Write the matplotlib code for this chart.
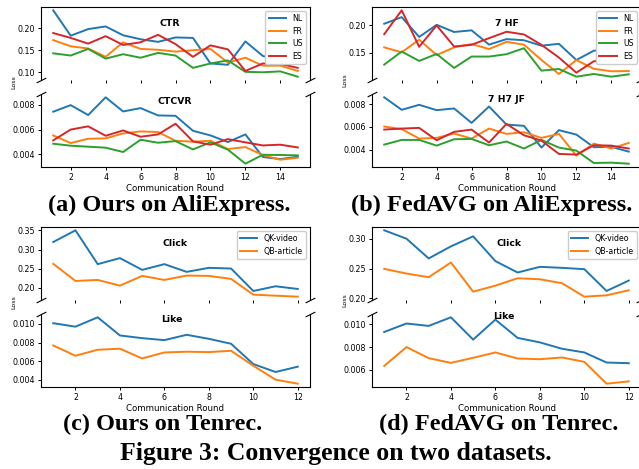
import matplotlib
matplotlib.use('Agg')
import matplotlib.pyplot as plt

W, H = 639, 469
fig = plt.figure(figsize=(W / 100, H / 100), dpi=100)

# ---------------- data ----------------
rounds_ali = list(range(1, 16))
rounds_ten = list(range(1, 13))
ali_labels = ['NL', 'FR', 'US', 'ES']
ten_labels = ['QK-video', 'QB-article']

# (a) Ours on AliExpress
a_ctr_nl = [0.2406, 0.183, 0.198, 0.204, 0.184, 0.175, 0.169, 0.179, 0.178, 0.120, 0.117, 0.170, 0.137, 0.128, 0.124]
a_ctr_fr = [0.173, 0.159, 0.154, 0.135, 0.168, 0.153, 0.151, 0.147, 0.150, 0.153, 0.122, 0.133, 0.115, 0.115, 0.103]
a_ctr_us = [0.143, 0.138, 0.153, 0.131, 0.141, 0.133, 0.144, 0.138, 0.110, 0.120, 0.127, 0.101, 0.100, 0.102, 0.090]
a_ctr_es = [0.189, 0.178, 0.165, 0.182, 0.162, 0.168, 0.185, 0.164, 0.135, 0.161, 0.152, 0.103, 0.120, 0.119, 0.110]
a_cvr_nl = [0.00744, 0.00797, 0.00717, 0.0086, 0.00746, 0.00773, 0.00714, 0.00711, 0.0059, 0.00553, 0.00499, 0.00561, 0.00379, 0.00362, 0.00381]
a_cvr_fr = [0.00553, 0.00491, 0.00526, 0.00529, 0.00569, 0.00585, 0.0058, 0.0051, 0.00502, 0.0051, 0.00443, 0.00459, 0.00395, 0.00357, 0.00373]
a_cvr_us = [0.00486, 0.0047, 0.00462, 0.00454, 0.00419, 0.00518, 0.00494, 0.00507, 0.0044, 0.00497, 0.00438, 0.00325, 0.00397, 0.00395, 0.00392]
a_cvr_es = [0.00513, 0.006, 0.00626, 0.0055, 0.00593, 0.00542, 0.00561, 0.00647, 0.00505, 0.00478, 0.00523, 0.00497, 0.00472, 0.00478, 0.00456]

# (b) FedAVG on AliExpress
b_ctr_nl = [0.203, 0.215, 0.179, 0.201, 0.188, 0.191, 0.165, 0.175, 0.173, 0.163, 0.1665, 0.137, 0.154, 0.1555, 0.1555]
b_ctr_fr = [0.160, 0.151, 0.174, 0.146, 0.160, 0.166, 0.157, 0.170, 0.165, 0.137, 0.1116, 0.137, 0.121, 0.1165, 0.117]
b_ctr_us = [0.1287, 0.1524, 0.1354, 0.148, 0.1226, 0.1433, 0.1433, 0.1476, 0.1585, 0.1177, 0.1207, 0.1067, 0.1116, 0.1067, 0.111]
b_ctr_es = [0.184, 0.2274, 0.161, 0.200, 0.1616, 0.1646, 0.1768, 0.1884, 0.1835, 0.1646, 0.1415, 0.114, 0.1348, 0.1348, 0.136]
b_cvr_nl = [0.0086, 0.0075, 0.00794, 0.00747, 0.00762, 0.00635, 0.00779, 0.0062, 0.00609, 0.00418, 0.00571, 0.00532, 0.00421, 0.00424, 0.00382]
b_cvr_fr = [0.00603, 0.0058, 0.00497, 0.00503, 0.00541, 0.00497, 0.00585, 0.00538, 0.00553, 0.00503, 0.00538, 0.00347, 0.00453, 0.00409, 0.00459]
b_cvr_us = [0.00444, 0.00485, 0.00485, 0.00435, 0.00491, 0.00494, 0.00438, 0.00471, 0.00409, 0.00485, 0.00418, 0.00391, 0.00282, 0.00285, 0.00276]
b_cvr_es = [0.00576, 0.00585, 0.00591, 0.00482, 0.00556, 0.00576, 0.00462, 0.00626, 0.00526, 0.00479, 0.00362, 0.00356, 0.00438, 0.00435, 0.00409]

# (c) Ours on Tenrec
c_click_qk = [0.3195, 0.350, 0.2619, 0.2776, 0.247, 0.2619, 0.2418, 0.2523, 0.2505, 0.192, 0.2043, 0.1973]
c_click_qb = [0.2627, 0.2182, 0.2208, 0.206, 0.2313, 0.2208, 0.2322, 0.2313, 0.2235, 0.1825, 0.1798, 0.1772]
c_like_qk = [0.01007, 0.0097, 0.0107, 0.00876, 0.00847, 0.00826, 0.00883, 0.0084, 0.00787, 0.0057, 0.00485, 0.00542]
c_like_qb = [0.00769, 0.00659, 0.00723, 0.00734, 0.0063, 0.00694, 0.00702, 0.00698, 0.00712, 0.00552, 0.00403, 0.0036]

# (d) FedAVG on Tenrec
d_click_qk = [0.314, 0.300, 0.2669, 0.2871, 0.3039, 0.2624, 0.2433, 0.2528, 0.2511, 0.2489, 0.2124, 0.2298]
d_click_qb = [0.2494, 0.2416, 0.2354, 0.2601, 0.2112, 0.2213, 0.2337, 0.232, 0.2253, 0.2028, 0.2051, 0.2135]
d_like_qk = [0.00932, 0.01006, 0.00985, 0.0106, 0.00865, 0.0104, 0.0088, 0.00841, 0.00785, 0.00753, 0.00665, 0.00659]
d_like_qb = [0.00635, 0.008, 0.00703, 0.00662, 0.00706, 0.00753, 0.007, 0.00694, 0.00709, 0.00671, 0.0048, 0.005]

# ---------------- drawing ----------------
TICK_FS = 5.7
LW = 1.4


def px_axes(x0, ytop, w, h, **kw):
    return fig.add_axes([x0 / W, 1 - (ytop + h) / H, w / W, h / H], **kw)


def broken_panel(x0, ytop, x, top_series, bot_series, labels, top_title, bot_title,
                 top_yticks, bot_yticks, top_tpos, bot_tpos, loss_xy):
    w, h, gap = 269, 73, 14
    ax1 = px_axes(x0, ytop, w, h)
    ax2 = px_axes(x0, ytop + h + gap, w, h, sharex=ax1)
    for i, (s, lab) in enumerate(zip(top_series, labels)):
        ax1.plot(x, s, color=f'C{i}', lw=LW, label=lab)
    for i, s in enumerate(bot_series):
        ax2.plot(x, s, color=f'C{i}', lw=LW)
    ax1.spines['bottom'].set_visible(False)
    ax2.spines['top'].set_visible(False)
    ax1.tick_params(labelbottom=False)
    for ax in (ax1, ax2):
        ax.tick_params(labelsize=TICK_FS, length=2.5, width=0.7, pad=2)
    ax1.set_yticks(top_yticks)
    ax2.set_yticks(bot_yticks)
    ax2.set_xlabel('Communication Round', fontsize=6.2, labelpad=1.5)
    ax1.text(top_tpos[0], top_tpos[1], top_title, transform=ax1.transAxes,
             ha='center', va='center', fontsize=6.7, fontweight='bold')
    ax2.text(bot_tpos[0], bot_tpos[1], bot_title, transform=ax2.transAxes,
             ha='center', va='center', fontsize=6.7, fontweight='bold')
    ax1.legend(loc='upper right', fontsize=TICK_FS, handlelength=2.2,
               labelspacing=0.45, borderpad=0.4, framealpha=1.0, edgecolor='#cccccc',
               fancybox=True)
    # break marks
    d = .5
    kw = dict(marker=[(-1, -d), (1, d)], markersize=7, linestyle='none', color='k',
              mec='k', mew=0.8, clip_on=False)
    ax1.plot([0, 1], [0, 0], transform=ax1.transAxes, **kw)
    ax2.plot([0, 1], [1, 1], transform=ax2.transAxes, **kw)
    fig.text(loss_xy[0] / W, 1 - loss_xy[1] / H, 'Loss', rotation=90,
             ha='center', va='center', fontsize=4.5)
    return ax1, ax2


broken_panel(41, 7, rounds_ali,
             [a_ctr_nl, a_ctr_fr, a_ctr_us, a_ctr_es],
             [a_cvr_nl, a_cvr_fr, a_cvr_us, a_cvr_es],
             ali_labels, 'CTR', 'CTCVR',
             [0.10, 0.15, 0.20], [0.004, 0.006, 0.008],
             (0.48, 0.78), (0.497, 0.894), (14, 82))

broken_panel(372, 7, rounds_ali,
             [b_ctr_nl, b_ctr_fr, b_ctr_us, b_ctr_es],
             [b_cvr_nl, b_cvr_fr, b_cvr_us, b_cvr_es],
             ali_labels, '7 HF', '7 H7 JF',
             [0.15, 0.20], [0.004, 0.006, 0.008],
             (0.50, 0.78), (0.50, 0.92), (345, 80))

broken_panel(41, 227, rounds_ten,
             [c_click_qk, c_click_qb], [c_like_qk, c_like_qb],
             ten_labels, 'Click', 'Like',
             [0.20, 0.25, 0.30, 0.35], [0.004, 0.006, 0.008, 0.010],
             (0.5, 0.78), (0.488, 0.93), (14, 302))

broken_panel(372, 227, rounds_ten,
             [d_click_qk, d_click_qb], [d_like_qk, d_like_qb],
             ten_labels, 'Click', 'Like',
             [0.20, 0.25, 0.30], [0.006, 0.008, 0.010],
             (0.51, 0.78), (0.49, 0.96), (345, 300))

sub_kw = dict(ha='center', va='center', fontsize=17.5, fontweight='bold',
              family=['Liberation Serif', 'DejaVu Serif'])
fig.text(169 / W, 1 - 205 / H, '(a) Ours on AliExpress.', **sub_kw)
fig.text(492 / W, 1 - 205 / H, '(b) FedAVG on AliExpress.', **sub_kw)
fig.text(163 / W, 1 - 424 / H, '(c) Ours on Tenrec.', **sub_kw)
fig.text(499 / W, 1 - 424 / H, '(d) FedAVG on Tenrec.', **sub_kw)
fig.text(336 / W, 1 - 453 / H, 'Figure 3: Convergence on two datasets.',
         ha='center', va='center', fontsize=18.5, fontweight='bold',
         family=['Liberation Serif', 'DejaVu Serif'])

fig.savefig('out.png', dpi=100)
